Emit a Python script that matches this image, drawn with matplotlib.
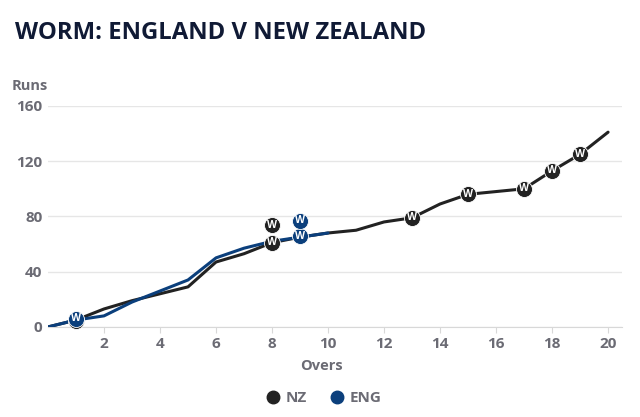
import matplotlib.pyplot as plt
from matplotlib.lines import Line2D

plt.rcParams['font.family'] = ['Open Sans', 'DejaVu Sans']

# Cumulative runs at the end of each over
nz_overs = list(range(0, 21))
nz_runs = [0, 5, 13, 19, 24, 29, 47, 53, 61, 65, 68, 70, 76, 79, 89, 96, 98, 100, 113, 125, 141]
eng_overs = list(range(0, 11))
eng_runs = [0, 5, 8, 18, 26, 34, 50, 57, 62, 65, 68]

# Wicket markers (over, height of marker)
nz_wkt_overs = [1, 8, 8, 13, 15, 17, 18, 19]
nz_wkt_runs = [4, 61, 73.5, 79, 96, 100, 113, 125]
eng_wkt_overs = [1, 9, 9]
eng_wkt_runs = [6, 65.5, 77]

nz_col = '#222222'
eng_col = '#0b3f7c'
grey = '#6b6b74'
navy = '#101a35'

fig = plt.figure(figsize=(6.4, 4.17), dpi=100)
ax = fig.add_axes([0.075, 0.216, 0.897, 0.53])

ax.plot(nz_overs, nz_runs, color=nz_col, lw=2.2, zorder=2, solid_capstyle='round')
ax.plot(eng_overs, eng_runs, color=eng_col, lw=2.2, zorder=3, solid_capstyle='round')

def wickets(xs, ys, col, z, covered=()):
    ax.plot(xs, ys, 'o', ms=11.5, mfc=col, mec='white', mew=0.6, zorder=z, clip_on=False)
    for x, y in zip(xs, ys):
        # label hidden behind another team's marker is not drawn
        if any(x == cx and abs(y - cy) < 5 for cx, cy in covered):
            continue
        ax.text(x, y, 'W', color='white', fontsize=7.5, fontweight='bold',
                ha='center', va='center', zorder=z + 0.5)

wickets(nz_wkt_overs, nz_wkt_runs, nz_col, 4, covered=list(zip(eng_wkt_overs, eng_wkt_runs)))
wickets(eng_wkt_overs, eng_wkt_runs, eng_col, 6)

ax.set_xlim(0, 20.5)
ax.set_ylim(0, 160)
ax.set_yticks([0, 40, 80, 120, 160])
ax.set_xticks(range(2, 21, 2))
ax.grid(axis='y', color='#e6e6e6', lw=1)
ax.set_axisbelow(True)
for s in ['top', 'right', 'left']:
    ax.spines[s].set_visible(False)
ax.spines['bottom'].set_color('#d8d8d8')
ax.tick_params(axis='y', length=0, pad=4, labelsize=11, labelcolor=grey)
ax.tick_params(axis='x', length=4, color='#d8d8d8', pad=3, labelsize=11, labelcolor=grey)
for lab in ax.get_xticklabels() + ax.get_yticklabels():
    lab.set_fontweight('bold')

fig.text(0.023, 0.906, 'WORM: ENGLAND V NEW ZEALAND', fontsize=17.2, fontweight='bold',
         color=navy, ha='left', va='baseline')
fig.text(0.018, 0.793, 'Runs', fontsize=10.5, fontweight='bold', color=grey, ha='left', va='center')
fig.text(0.503, 0.122, 'Overs', fontsize=10.5, fontweight='bold', color=grey, ha='center', va='center')

handles = [Line2D([], [], ls='', marker='o', ms=9, color=nz_col),
           Line2D([], [], ls='', marker='o', ms=9, color=eng_col)]
leg = fig.legend(handles, ['NZ', 'ENG'], loc='center', bbox_to_anchor=(0.505, 0.045),
                 ncol=2, frameon=False, handletextpad=0.3, columnspacing=1.5,
                 handlelength=1, prop={'size': 11, 'weight': 'bold'})
for t in leg.get_texts():
    t.set_color(grey)

fig.savefig('out.png', dpi=100)
